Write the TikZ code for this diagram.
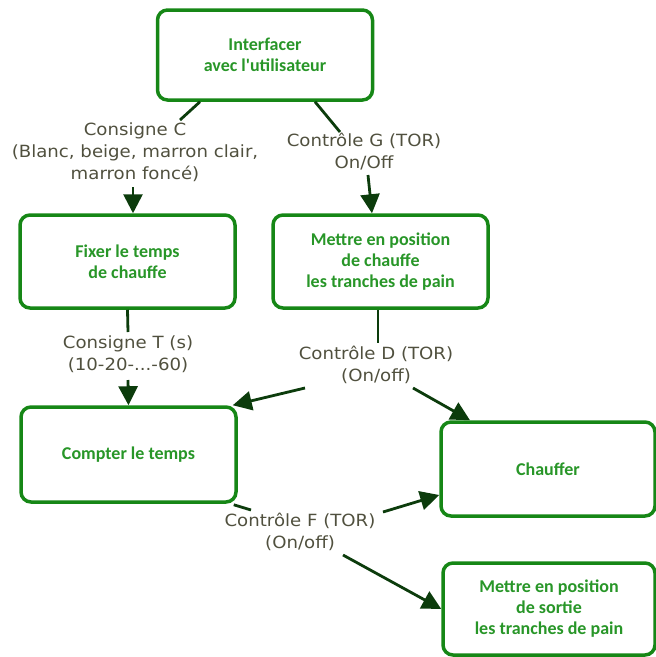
\documentclass[tikz,border=0pt]{standalone}
\usepackage{fontspec}
\setmainfont{DejaVu Sans}[FakeStretch=1.08]
\newfontfamily\boxfont{Carlito}
\usetikzlibrary{arrows.meta}
\definecolor{boxgreen}{RGB}{22,135,22}
\definecolor{txtgreen}{RGB}{40,150,40}
\definecolor{lblgray}{RGB}{80,80,62}
\definecolor{arrgreen}{RGB}{12,60,12}
\begin{document}
\begin{tikzpicture}[x=1pt,y=-1pt,
 fbox/.style={draw=boxgreen, line width=3.5pt, rounded corners=10pt, fill=white, align=center, text=txtgreen, font=\boxfont\bfseries\fontsize{18}{21}\selectfont},
 lbl/.style={align=center, text=lblgray, font=\fontsize{16.8}{22}\selectfont, inner sep=0pt},
 link/.style={draw=arrgreen, line width=2.8pt},
 arr/.style={link, -{Triangle[length=19pt,width=19pt]}}]
\useasboundingbox (0,0) rectangle (656,657);
\node[fbox, minimum width=215pt, minimum height=90pt] (top) at (265,55) {Interfacer\\avec l\textquotesingle utilisateur};
\node[fbox, minimum width=215pt, minimum height=93pt] (fix) at (127.5,261.5) {Fixer le temps\\de chauffe};
\node[fbox, minimum width=215pt, minimum height=93pt] (met) at (380.5,261.5) {Mettre en position\\de chauffe\\les tranches de pain};
\node[fbox, minimum width=215pt, minimum height=95pt] (cpt) at (128.5,454.5) {Compter le temps};
\node[fbox, minimum width=214pt, minimum height=94pt] (chf) at (548,469) {Chauffer};
\node[fbox, minimum width=212pt, minimum height=92pt] (sor) at (549,609) {Mettre en position\\de sortie\\les tranches de pain};

\node[lbl] (lC) at (135,152) {Consigne C\\(Blanc, beige, marron clair,\\marron foncé)};
\node[lbl] (lG) at (364,152) {Contrôle G (TOR)\\On/Off};
\node[lbl] (lT) at (128,354) {Consigne T (s)\\(10-20-...-60)};
\node[lbl] (lD) at (376,365) {Contrôle D (TOR)\\(On/off)};
\node[lbl] (lF) at (300,532) {Contrôle F (TOR)\\(On/off)};

\coordinate (c1) at (180,120);
\coordinate (c2) at (340,132);
\coordinate (c3) at (133,187);
\coordinate (c4) at (368,175);
\coordinate (c5) at (128,332);
\coordinate (c6) at (128,380);
\coordinate (c7) at (378,343);
\coordinate (c8) at (305,388);
\coordinate (c9) at (413,388);
\coordinate (c10) at (251,510);
\coordinate (c11) at (383,512);
\coordinate (c12) at (343,555);

\draw[link] ([xshift=-65pt]top.south) -- (c1);
\draw[link] ([xshift=50pt]top.south) -- (c2);
\draw[arr] (c3) -- ([xshift=5.5pt]fix.north);
\draw[arr] (c4) -- ([xshift=-8.5pt]met.north);
\draw[link] (fix.south) -- (c5);
\draw[arr] (c6) -- (cpt.north);
\draw[link] ([xshift=-2.5pt]met.south) -- (c7);
\draw[arr] (c8) -- ([xshift=-5pt]cpt.north east);
\draw[arr] (c9) -- ([xshift=-78pt]chf.north);
\draw[link] ([xshift=-4pt,yshift=-1pt]cpt.south east) -- (c10);
\draw[arr] (c11) -- ([yshift=-26pt]chf.west);
\draw[arr] (c12) -- (sor.west);
\end{tikzpicture}
\end{document}
